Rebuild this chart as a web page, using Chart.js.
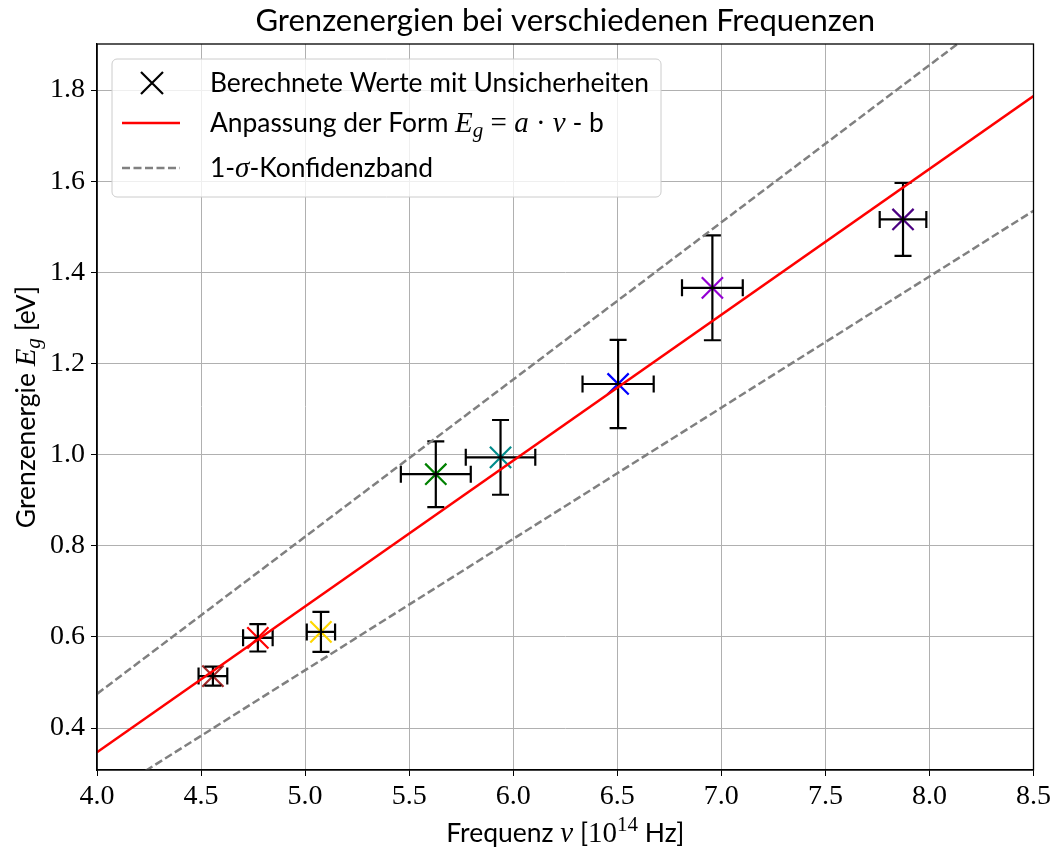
<!DOCTYPE html>
<html>
<head>
<meta charset="utf-8">
<script src="https://cdn.jsdelivr.net/npm/chart.js@4.4.1/dist/chart.umd.min.js"></script>
<style>
  html, body { margin: 0; padding: 0; background: #fff; }
  canvas { display: block; }
</style>
</head>
<body>
<canvas id="chart" width="1055" height="851"></canvas>
<script>
// measured values (frequency in 10^14 Hz, energy in eV)
const freq = [4.557, 4.773, 5.076, 5.628, 5.939, 6.504, 6.957, 7.873];
const energy = [0.514, 0.598, 0.611, 0.957, 0.994, 1.155, 1.366, 1.516];
const freqErr = [0.069, 0.071, 0.068, 0.168, 0.167, 0.171, 0.146, 0.112];
const energyErr = [0.021, 0.030, 0.044, 0.072, 0.082, 0.097, 0.115, 0.080];
const pointColors = ['#a52a2a', '#ff0000', '#ffd700', '#008000', '#008b8b', '#0000ff', '#9400d3', '#4b0082'];

// fit line and 1-sigma band, end points at the axis limits
const lineX = [4.0, 8.5];
const fitY = [0.347, 1.787];
const upperY = [0.475, 2.027];
const lowerY = [0.239, 1.535];

const xTicks = [4.0, 4.5, 5.0, 5.5, 6.0, 6.5, 7.0, 7.5, 8.0, 8.5];
const yTicks = [0.4, 0.6, 0.8, 1.0, 1.2, 1.4, 1.6, 1.8];

const SANS = '"Lato", "Open Sans", sans-serif';
const SERIF = '"Liberation Serif", serif';

function drawParts(ctx, parts, x, y) {
  // parts: [text, font, dy]
  let cx = x;
  for (const [t, font, dy] of parts) {
    ctx.font = font;
    ctx.fillText(t, cx, y + (dy || 0));
    cx += ctx.measureText(t).width;
  }
  return cx - x;
}
function partsWidth(ctx, parts) {
  let w = 0;
  for (const [t, font] of parts) { ctx.font = font; w += ctx.measureText(t).width; }
  return w;
}

const errorBars = {
  id: 'errorBars',
  afterDatasetDraw(chart, args) {
    if (args.index !== 0) return;
    const { ctx, scales: { x, y } } = chart;
    const cap = 8.5;
    ctx.save();
    ctx.strokeStyle = '#000';
    ctx.lineWidth = 2.2;
    freq.forEach((f, i) => {
      const px = x.getPixelForValue(f), py = y.getPixelForValue(energy[i]);
      const x0 = x.getPixelForValue(f - freqErr[i]), x1 = x.getPixelForValue(f + freqErr[i]);
      const y0 = y.getPixelForValue(energy[i] - energyErr[i]), y1 = y.getPixelForValue(energy[i] + energyErr[i]);
      ctx.beginPath();
      ctx.moveTo(x0, py); ctx.lineTo(x1, py);
      ctx.moveTo(px, y0); ctx.lineTo(px, y1);
      ctx.moveTo(x0, py - cap); ctx.lineTo(x0, py + cap);
      ctx.moveTo(x1, py - cap); ctx.lineTo(x1, py + cap);
      ctx.moveTo(px - cap, y0); ctx.lineTo(px + cap, y0);
      ctx.moveTo(px - cap, y1); ctx.lineTo(px + cap, y1);
      ctx.stroke();
    });
    ctx.restore();
  }
};

const decorations = {
  id: 'decorations',
  afterDraw(chart) {
    const { ctx, chartArea: a } = chart;
    ctx.save();
    // frame
    ctx.strokeStyle = '#000';
    ctx.lineWidth = 1.3;
    ctx.strokeRect(a.left, a.top, a.right - a.left, a.bottom - a.top);

    ctx.fillStyle = '#000';
    ctx.textBaseline = 'alphabetic';

    // title
    ctx.font = '31px ' + SANS;
    ctx.textAlign = 'center';
    ctx.fillText('Grenzenergien bei verschiedenen Frequenzen', (a.left + a.right) / 2, 31);
    ctx.textAlign = 'left';

    // x axis title
    const xParts = [
      ['Frequenz ', '26.5px ' + SANS],
      ['\u03BD', 'italic 29px ' + SERIF],
      [' [', '26.5px ' + SANS],
      ['10', '29px ' + SERIF],
      ['14', '21px ' + SERIF, -11],
      [' Hz]', '26.5px ' + SANS]
    ];
    const xw = partsWidth(ctx, xParts);
    drawParts(ctx, xParts, (a.left + a.right) / 2 - xw / 2, 842);

    // y axis title
    const yParts = [
      ['Grenzenergie ', '26.5px ' + SANS],
      ['E', 'italic 29px ' + SERIF],
      ['g', 'italic 21px ' + SERIF, 5],
      [' [eV]', '26.5px ' + SANS]
    ];
    const yw = partsWidth(ctx, yParts);
    ctx.save();
    ctx.translate(35, (a.top + a.bottom) / 2);
    ctx.rotate(-Math.PI / 2);
    drawParts(ctx, yParts, -yw / 2, 0);
    ctx.restore();

    // legend
    const lx = 112, ly = 59, lw = 549, lh = 138;
    ctx.beginPath();
    ctx.roundRect(lx, ly, lw, lh, 5);
    ctx.fillStyle = 'rgba(255,255,255,0.8)';
    ctx.fill();
    ctx.strokeStyle = '#cccccc';
    ctx.lineWidth = 1;
    ctx.stroke();

    ctx.strokeStyle = '#000';
    ctx.lineWidth = 2.2;
    ctx.beginPath();
    ctx.moveTo(141, 72); ctx.lineTo(163, 94);
    ctx.moveTo(163, 72); ctx.lineTo(141, 94);
    ctx.stroke();

    ctx.lineWidth = 2.5;
    ctx.strokeStyle = '#ff0000';
    ctx.beginPath();
    ctx.moveTo(122, 123); ctx.lineTo(180, 123);
    ctx.stroke();

    ctx.strokeStyle = '#808080';
    ctx.setLineDash([8, 3.5]);
    ctx.beginPath();
    ctx.moveTo(122, 168); ctx.lineTo(180, 168);
    ctx.stroke();
    ctx.setLineDash([]);

    ctx.fillStyle = '#000';
    ctx.font = '26.4px ' + SANS;
    ctx.fillText('Berechnete Werte mit Unsicherheiten', 210, 92);
    drawParts(ctx, [
      ['Anpassung der Form ', '26.4px ' + SANS],
      ['E', 'italic 29px ' + SERIF],
      ['g', 'italic 21px ' + SERIF, 5],
      [' = ', '29px ' + SERIF],
      ['a', 'italic 29px ' + SERIF],
      [' \u00B7 ', '29px ' + SERIF],
      ['\u03BD', 'italic 29px ' + SERIF],
      [' - b', '26.4px ' + SANS]
    ], 210, 132);
    drawParts(ctx, [
      ['1-', '26.4px ' + SANS],
      ['\u03C3', 'italic 29px ' + SERIF],
      ['-Konfidenzband', '26.4px ' + SANS]
    ], 210, 177);
    ctx.restore();
  }
};

const pairs = ys => lineX.map((x, i) => ({ x, y: ys[i] }));
const tickFont = { family: SERIF, size: 28 };
const gridStyle = { color: '#b0b0b0', lineWidth: 1, tickColor: '#000', tickLength: 6 };

new Chart(document.getElementById('chart'), {
  type: 'scatter',
  data: {
    datasets: [
      {
        data: freq.map((f, i) => ({ x: f, y: energy[i] })),
        pointStyle: 'crossRot',
        pointRadius: 15,
        pointBorderWidth: 2.2,
        borderColor: pointColors,
        backgroundColor: pointColors,
        order: 10
      },
      {
        type: 'line',
        data: pairs(fitY),
        borderColor: '#ff0000',
        borderWidth: 2.5,
        pointRadius: 0,
        clip: 0,
        order: 2
      },
      {
        type: 'line',
        data: pairs(upperY),
        borderColor: '#808080',
        borderWidth: 2.5,
        borderDash: [8, 3.5],
        pointRadius: 0,
        clip: 0,
        order: 3
      },
      {
        type: 'line',
        data: pairs(lowerY),
        borderColor: '#808080',
        borderWidth: 2.5,
        borderDash: [8, 3.5],
        pointRadius: 0,
        clip: 0,
        order: 3
      }
    ]
  },
  options: {
    responsive: false,
    animation: false,
    devicePixelRatio: 1,
    layout: { padding: { top: 44, right: 21, left: 0, bottom: 0 } },
    plugins: { legend: { display: false }, tooltip: { enabled: false }, title: { display: false } },
    scales: {
      x: {
        type: 'linear',
        min: 4.0,
        max: 8.5,
        afterBuildTicks(s) { s.ticks = xTicks.map(v => ({ value: v })); },
        afterFit(s) { s.height = 81; },
        ticks: { font: tickFont, color: '#000', padding: 4, maxRotation: 0, callback: v => v.toFixed(1) },
        grid: gridStyle,
        border: { color: '#000', width: 1.3 }
      },
      y: {
        min: 0.308,
        max: 1.901,
        afterBuildTicks(s) { s.ticks = yTicks.map(v => ({ value: v })); },
        afterFit(s) { s.width = 97; },
        ticks: { font: tickFont, color: '#000', padding: 6, callback: v => v.toFixed(1) },
        grid: gridStyle,
        border: { color: '#000', width: 1.3 }
      }
    }
  },
  plugins: [errorBars, decorations]
});
</script>
</body>
</html>
